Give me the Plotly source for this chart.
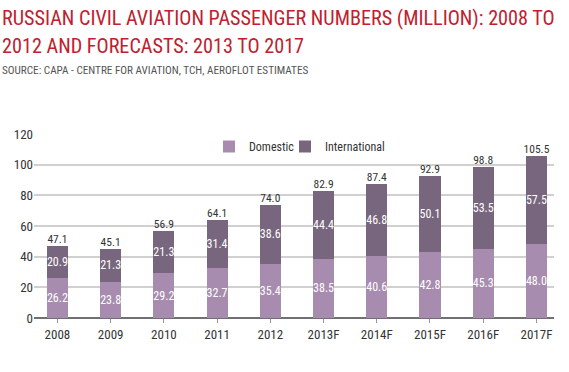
import plotly.graph_objects as go

categories = ["2008", "2009", "2010", "2011", "2012", "2013F", "2014F", "2015F", "2016F", "2017F"]
domestic = [26.2, 23.8, 29.2, 32.7, 35.4, 38.5, 40.6, 42.8, 45.3, 48.0]
international = [20.9, 21.3, 21.3, 31.4, 38.6, 44.4, 46.8, 50.1, 53.5, 57.5]
totals = [47.1, 45.1, 56.9, 64.1, 74.0, 82.9, 87.4, 92.9, 98.8, 105.5]
y_ticks = [0, 20, 40, 60, 80, 100, 120]

# The chart draws each stack up to its printed total (2010's printed segment
# label does not add up), so the upper segment spans domestic -> total.
international_drawn = [t - d for t, d in zip(totals, domestic)]

W, H = 569, 372
ML, MR, MT, MB = 34, 15, 134, 54
FONT = "Roboto Condensed, Roboto, sans-serif"
DOM_C = "#a78caf"
INT_C = "#77667e"
TXT = "#333333"

pw = W - ML - MR
ph = H - MT - MB


def px_x(x):
    return (x - ML) / pw


def px_y(y):
    return (H - MB - y) / ph


fig = go.Figure()
for name, vals, labels, col, leg in [("Domestic", domestic, domestic, DOM_C, "legend"),
                                     ("International", international_drawn, international, INT_C, "legend2")]:
    fig.add_trace(go.Bar(
        x=categories, y=vals, name=name, marker=dict(color=col, line=dict(width=0)),
        text=[f"{v:.1f}" for v in labels], textposition="inside", insidetextanchor="middle",
        textangle=0, constraintext="none", legend=leg,
        textfont=dict(color="white", size=12, family=FONT), width=0.395,
        hovertext=[f"{v:.1f}" for v in labels], hoverinfo="x+name+text",
    ))
fig.add_trace(go.Scatter(
    x=categories, y=totals, mode="text", text=[f"{v:.1f}" for v in totals],
    textposition="top center", textfont=dict(color=TXT, size=11.5, family=FONT),
    showlegend=False, cliponaxis=False, hoverinfo="skip",
))

legend_style = dict(orientation="h", xanchor="left", yanchor="top",
                    font=dict(size=12, color=TXT, family=FONT), bgcolor="rgba(0,0,0,0)",
                    itemwidth=30)

fig.update_layout(
    width=W, height=H, barmode="stack",
    margin=dict(l=ML, r=MR, t=MT, b=MB),
    paper_bgcolor="white", plot_bgcolor="white",
    font=dict(family=FONT, color=TXT, size=12),
    uniformtext=dict(minsize=8, mode="show"),
    showlegend=True,
    legend=dict(x=px_x(209), y=px_y(132), **legend_style),
    legend2=dict(x=px_x(285), y=px_y(132), **legend_style),
    xaxis=dict(type="category", range=[-0.44, 9.33], showgrid=False, showline=False,
               ticks="outside", ticklen=4, tickcolor="#999999", tickwidth=1,
               tickfont=dict(size=13, color=TXT, family=FONT), zeroline=False),
    yaxis=dict(range=[0, 120], tickvals=y_ticks, showgrid=True, gridcolor="#d0d0d0", gridwidth=2,
               zeroline=True, zerolinecolor="#707070", zerolinewidth=1.5, showline=False,
               ticks="", tickfont=dict(size=13, color=TXT, family=FONT)),
)

fig.add_annotation(text="RUSSIAN CIVIL AVIATION PASSENGER NUMBERS (MILLION): 2008 TO",
                   xref="paper", yref="paper", x=px_x(0), y=px_y(4), xanchor="left", yanchor="top",
                   showarrow=False, font=dict(size=20.2, color="#c0202e", family=FONT))
fig.add_annotation(text="2012 AND FORECASTS: 2013 TO 2017",
                   xref="paper", yref="paper", x=px_x(0), y=px_y(32), xanchor="left", yanchor="top",
                   showarrow=False, font=dict(size=20.2, color="#c0202e", family=FONT))
fig.add_annotation(text="SOURCE: CAPA - CENTRE FOR AVIATION, TCH, AEROFLOT ESTIMATES",
                   xref="paper", yref="paper", x=px_x(0), y=px_y(62), xanchor="left", yanchor="top",
                   showarrow=False, font=dict(size=11.2, color="#555555", family=FONT))

fig.write_html("out.html", config={"displayModeBar": False},
               post_script="document.body.style.margin='0px';")
